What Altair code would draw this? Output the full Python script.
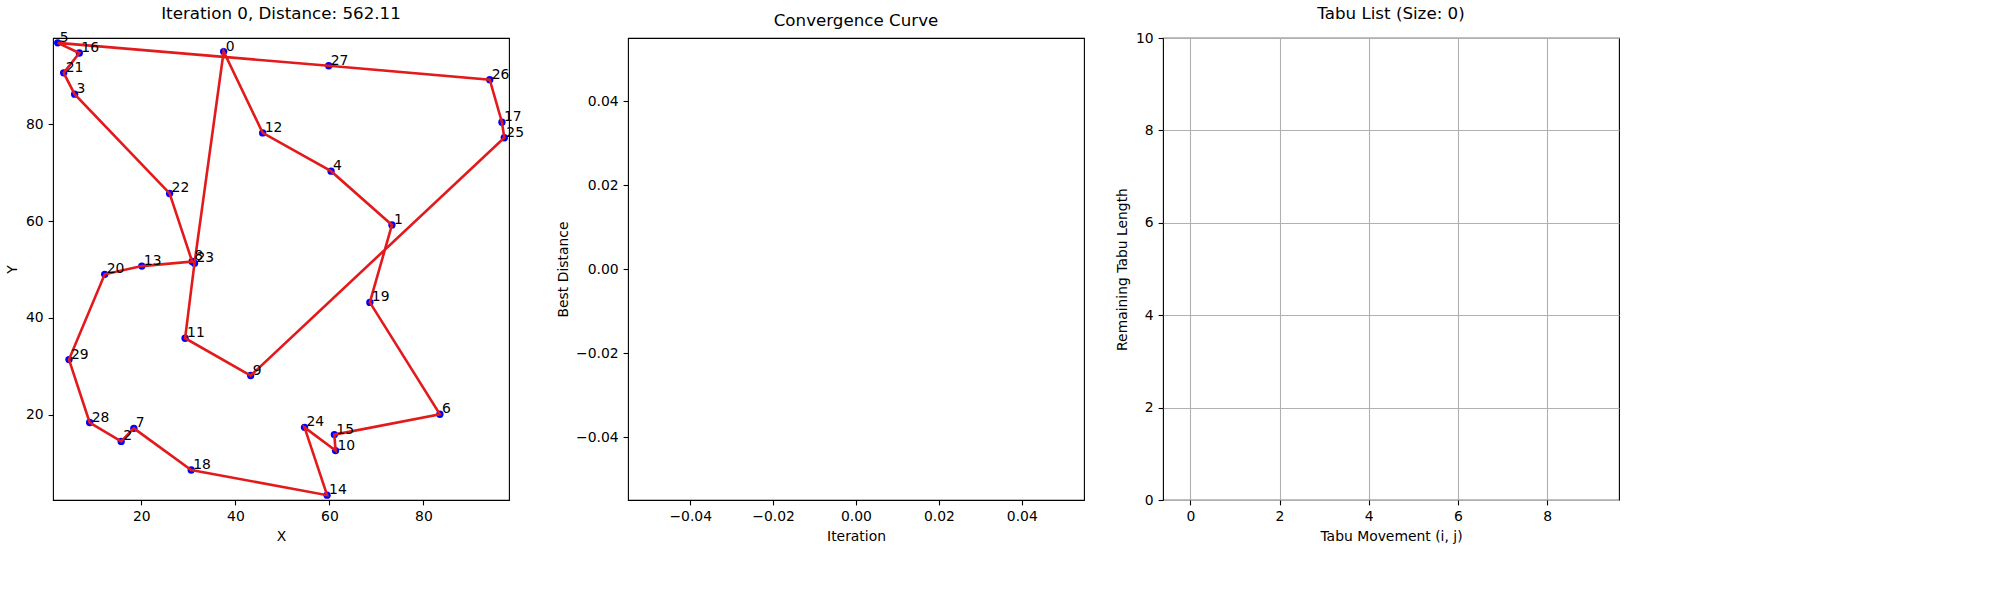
import altair as alt
import pandas as pd

# ---------------- data ----------------
city_ids = list(range(30))
city_x = [37.5, 73.3, 15.7, 5.8, 60.35, 2.2, 83.5, 18.4, 30.8, 43.25,
          61.3, 29.3, 45.8, 20.1, 59.5, 61.05, 6.8, 96.7, 30.6, 68.6,
          12.2, 3.47, 26.0, 31.3, 54.7, 97.2, 94.1, 59.85, 9.0, 4.6]
city_y = [95.0, 59.2, 14.5, 86.2, 70.3, 96.8, 20.1, 17.2, 51.65, 28.1,
          12.6, 35.8, 78.2, 50.7, 3.4, 15.9, 94.7, 80.4, 8.6, 43.2,
          49.0, 90.6, 65.7, 51.3, 17.4, 77.2, 89.2, 92.07, 18.4, 31.4]
tour = [5, 16, 21, 3, 22, 8, 13, 20, 29, 28, 2, 7, 18, 14, 24, 10, 15, 6,
        19, 1, 4, 12, 0, 23, 11, 9, 25, 17, 26, 27, 5]
iteration = 0
distance = 562.11

# convergence history (empty at iteration 0)
iterations = []
best_distances = []
aspiration_iters = []
aspiration_dists = []

# tabu list (empty)
tabu_moves = []
tabu_remaining = []

FONT = "DejaVu Sans"

cities = pd.DataFrame({"x": city_x, "y": city_y,
                       "label": [str(i) for i in city_ids]})
route = pd.DataFrame({"step": list(range(len(tour))),
                      "x": [city_x[c] for c in tour],
                      "y": [city_y[c] for c in tour]})

# ---------------- panel 1: route ----------------
xs1 = alt.Scale(domain=[min(city_x) - 1, max(city_x) + 1], nice=False, zero=False)
ys1 = alt.Scale(domain=[min(city_y) - 1, max(city_y) + 1], nice=False, zero=False)
X1 = alt.X("x:Q", scale=xs1, axis=alt.Axis(values=[20, 40, 60, 80], title="X", grid=False))
Y1 = alt.Y("y:Q", scale=ys1, axis=alt.Axis(values=[20, 40, 60, 80], title="Y", grid=False))

pts = alt.Chart(cities).mark_circle(color="blue", size=54, opacity=1).encode(x=X1, y=Y1)
line = alt.Chart(route).mark_line(color="#e31a1c", strokeWidth=2.6).encode(
    x="x:Q", y="y:Q", order="step:Q")
labels = alt.Chart(cities).mark_text(
    align="left", baseline="alphabetic", dx=2, dy=-1, fontSize=13.9, font=FONT,
    color="black").encode(x="x:Q", y="y:Q", text="label:N")
p1 = alt.layer(pts, line, labels).properties(
    width=456, height=462,
    title=f"Iteration {iteration}, Distance: {distance:.2f}")

# ---------------- panel 2: convergence ----------------
conv = pd.DataFrame({"iteration": iterations, "best": best_distances})
xs2 = alt.Scale(domain=[-0.055, 0.055], nice=False, zero=False)
ys2 = alt.Scale(domain=[-0.055, 0.055], nice=False, zero=False)
ticks2 = [-0.04, -0.02, 0.0, 0.02, 0.04]
X2 = alt.X("iteration:Q", scale=xs2,
           axis=alt.Axis(values=ticks2, format=".2f", title="Iteration", grid=False))
Y2 = alt.Y("best:Q", scale=ys2,
           axis=alt.Axis(values=ticks2, format=".2f", title="Best Distance", grid=False))
p2 = alt.Chart(conv).mark_line(color="#1f77b4").encode(x=X2, y=Y2).properties(
    width=456, height=462, title="Convergence Curve")

# ---------------- panel 3: tabu list ----------------
tabu = pd.DataFrame({"move": tabu_moves, "remaining": tabu_remaining})
X3 = alt.X("move:Q", scale=alt.Scale(domain=[-0.5, 9.5], nice=False, zero=False),
           axis=alt.Axis(values=[0, 2, 4, 6, 8], title="Tabu Movement (i, j)", grid=True))
Y3 = alt.Y("remaining:Q", scale=alt.Scale(domain=[0, 10], nice=False, zero=False),
           axis=alt.Axis(values=[0, 2, 4, 6, 8, 10], title="Remaining Tabu Length", grid=True))
p3 = alt.Chart(tabu).mark_bar(color="#1f77b4").encode(x=X3, y=Y3).properties(
    width=456, height=462, title="Tabu List (Size: 0)")

chart = alt.hconcat(p1, p2, p3, spacing=30).configure_view(
    stroke="black", strokeWidth=1.1
).configure_axis(
    domain=False, tickColor="black", tickSize=4.9, tickWidth=1.1,
    labelFont=FONT, labelFontSize=13.9, labelColor="black", labelPadding=4.9,
    titleFont=FONT, titleFontSize=13.9, titleFontWeight="normal", titleColor="black",
    titlePadding=5.6, gridColor="#b0b0b0", gridWidth=1.1
).configure_title(
    font=FONT, fontSize=16.7, fontWeight="normal", color="black", offset=8.3
)

chart.save("out.html", embed_options={"renderer": "svg", "actions": False})
